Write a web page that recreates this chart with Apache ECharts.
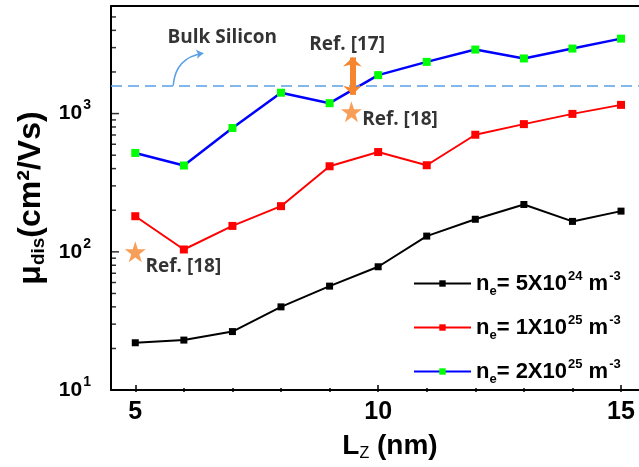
<!DOCTYPE html>
<html>
<head>
<meta charset="utf-8">
<script src="https://cdn.jsdelivr.net/npm/echarts@6/dist/echarts.min.js"></script>
<style>
html, body { margin: 0; padding: 0; background: #fff; }
#chart { width: 639px; height: 467px; }
</style>
</head>
<body>
<div id="chart"></div>
<script>
// L_Z (nm)
const lz = [5, 6, 7, 8, 9, 10, 11, 12, 13, 14, 15]
// mobility values, cm^2/Vs
const mu5e24 = [22, 23, 26.5, 40, 56.5, 78, 130, 172, 220, 166, 197]
const mu1e25 = [181, 104, 154, 214, 416, 527, 423, 703, 839, 995, 1156]
const mu2e25 = [519, 421, 787, 1416, 1189, 1897, 2366, 2904, 2505, 2953, 3484]
const seriesNames = ['5X10|24', '1X10|25', '2X10|25']
// reference points
const refStars = [[5, 100], [9.45, 1030]]
const ref17Arrow = [[9.47, 2548], [9.47, 1366]]
const bulkSilicon = 1590
const bulkArrow = [[5.78, 1590], [6.40, 2735]]
const notes = [
  { name: 'Bulk Silicon', value: [6.79, 3565], align: 'center' },
  { name: 'Ref. [17]', value: [9.36, 3170], align: 'center' },
  { name: 'Ref. [18]', value: [9.67, 901], align: 'left' },
  { name: 'Ref. [18]', value: [5.21, 77.6], align: 'left' }
]
const xLabels = [5, 10, 15]
const yMajor = [10, 100, 1000]
const yMinor = [20, 30, 40, 50, 60, 70, 80, 90, 200, 300, 400, 500, 600, 700, 800, 900, 2000, 3000, 4000, 5000]

const FONT = '"Liberation Sans", Arial, sans-serif'
const NOTE_FONT = '"Open Sans", "Noto Sans", sans-serif'
const ORANGE = '#f5862f'
const LIGHTBLUE = '#5aa0e6'
const X_MIN = 4.5, X_MAX = 15.37, Y_MIN = 10, Y_MAX = 6000
const STAR = 'path://M50,0 L61.8,35.1 L98.9,35.1 L68.9,56.9 L80.3,91.9 L50,70.2 L19.7,91.9 L31.1,56.9 L1.1,35.1 L38.2,35.1 Z'

// main plot box
const W = 639, H = 467
const G = { left: 111, top: 6, right: 0, bottom: 75 }
const gw = W - G.left - G.right
// x tick grid spans 5..15 on the same scale as the plot
const xTickGrid = {
  left: G.left + (5 - X_MIN) / (X_MAX - X_MIN) * gw,
  right: G.right + (X_MAX - 15) / (X_MAX - X_MIN) * gw,
  top: G.top, bottom: G.bottom
}

function pairs(ys) {
  return lz.map((x, i) => [x, ys[i]])
}

const legendRich = {
  a: { fontFamily: FONT, fontWeight: 'bold', fontSize: 22, color: '#000', lineHeight: 24 },
  sub: { fontFamily: FONT, fontWeight: 'bold', fontSize: 13, color: '#000', lineHeight: 24, padding: [16, 0, 0, 0] },
  sup: { fontFamily: FONT, fontWeight: 'bold', fontSize: 13, color: '#000', lineHeight: 24, padding: [0, 0, 15, 1] }
}

function lineSeries(name, ys, color, markColor, lw, ms) {
  return {
    name: name,
    type: 'line',
    data: pairs(ys),
    symbol: 'rect',
    symbolSize: ms,
    lineStyle: { color: color, width: lw },
    itemStyle: { color: markColor },
    color: color,
    z: 3
  }
}

// y ticks of the log axis, drawn as short marks on the left edge
function yTickSeries(name, values, len) {
  return {
    name: name,
    type: 'scatter',
    silent: true,
    clip: false,
    data: values.map(v => [X_MIN, v]),
    symbol: 'rect',
    symbolSize: [len, 1.5],
    symbolOffset: [len / 2, 0],
    itemStyle: { color: '#000' },
    z: 2
  }
}

const tickLine = { color: '#000', width: 1.5 }

var myChart = echarts.init(document.getElementById('chart'), null, { renderer: 'canvas' })
const option = {
  animation: false,
  backgroundColor: '#fff',
  grid: [
    { left: G.left, top: G.top, right: G.right, bottom: G.bottom },
    xTickGrid
  ],
  legend: {
    orient: 'vertical',
    left: 408,
    top: 264,
    itemWidth: 57,
    itemHeight: 8,
    itemGap: 15,
    selectedMode: false,
    data: seriesNames,
    formatter: function (name) {
      const p = name.split('|')
      return '{a|n}{sub|e}{a|= ' + p[0] + '}{sup|' + p[1] + '}{a| m}{sup|-3}'
    },
    textStyle: { rich: legendRich }
  },
  xAxis: [
    {
      gridIndex: 0, type: 'value', min: X_MIN, max: X_MAX, position: 'bottom',
      axisLine: { show: true, lineStyle: { color: '#000', width: 2 } },
      axisTick: { show: false },
      axisLabel: { customValues: xLabels, margin: 10, color: '#000', fontFamily: FONT, fontWeight: 'bold', fontSize: 25 },
      splitLine: { show: false },
      name: '{a|L}{s|Z}{a| (nm)}',
      nameLocation: 'middle',
      nameGap: 32,
      nameTextStyle: {
        padding: [0, 0, 0, 30],
        rich: {
          a: { fontFamily: FONT, fontWeight: 'bold', fontSize: 28, color: '#000', lineHeight: 30 },
          s: { fontFamily: FONT, fontSize: 16, color: '#000', lineHeight: 30, padding: [16, 0, 0, 0] }
        }
      }
    },
    {
      gridIndex: 0, type: 'value', min: X_MIN, max: X_MAX, position: 'top',
      axisLine: { show: true, lineStyle: { color: '#000', width: 2 } },
      axisTick: { show: false },
      axisLabel: { show: false },
      splitLine: { show: false }
    },
    {
      // x ticks: major every 5 nm, minor every 1 nm
      gridIndex: 1, type: 'value', min: 5, max: 15, interval: 5, position: 'bottom',
      axisLine: { show: false },
      axisTick: { show: true, inside: true, length: 7, lineStyle: tickLine },
      minorTick: { show: true, splitNumber: 5, length: 4, lineStyle: tickLine },
      axisLabel: { show: false },
      splitLine: { show: false }
    }
  ],
  yAxis: [
    {
      gridIndex: 0, type: 'log', logBase: 10, min: Y_MIN, max: Y_MAX, position: 'left',
      axisLine: { show: true, lineStyle: { color: '#000', width: 2 } },
      axisTick: { show: false },
      axisLabel: {
        customValues: yMajor,
        margin: 20,
        formatter: function (v) {
          return '{a|10}{s|' + Math.round(Math.log10(v)) + '}'
        },
        rich: {
          a: { fontFamily: FONT, fontWeight: 'bold', fontSize: 21, color: '#000', lineHeight: 24 },
          s: { fontFamily: FONT, fontWeight: 'bold', fontSize: 14, color: '#000', lineHeight: 24, padding: [0, 0, 16, 1] }
        }
      },
      splitLine: { show: false },
      name: '{a|μ}{s|dis}{a|(cm²/Vs)}',
      nameLocation: 'middle',
      nameGap: 62,
      nameRotate: 90,
      nameTextStyle: {
        rich: {
          a: { fontFamily: FONT, fontWeight: 'bold', fontSize: 32, color: '#000', lineHeight: 34 },
          s: { fontFamily: FONT, fontWeight: 'bold', fontSize: 19, color: '#000', lineHeight: 34, padding: [14, 0, 0, 0] }
        }
      }
    },
    {
      gridIndex: 1, type: 'value', min: 0, max: 1, show: false
    }
  ],
  series: [
    lineSeries(seriesNames[0], mu5e24, '#000000', '#000000', 2, 7),
    lineSeries(seriesNames[1], mu1e25, '#ff0000', '#ff0000', 2, 8),
    lineSeries(seriesNames[2], mu2e25, '#0000ff', '#00ff00', 2.5, 8),
    yTickSeries('yMajorTicks', yMajor, 8),
    yTickSeries('yMinorTicks', yMinor, 5),
    {
      // bulk silicon reference + orange stars + ref [17] arrow
      name: 'refs',
      type: 'scatter',
      data: refStars,
      symbol: STAR,
      symbolSize: 21,
      itemStyle: { color: ORANGE },
      z: 5,
      markLine: {
        silent: true,
        animation: false,
        label: { show: false },
        data: [
          [
            { coord: [X_MIN, bulkSilicon], symbol: 'none', lineStyle: { color: LIGHTBLUE, width: 1.5, type: [11, 6] } },
            { coord: [X_MAX, bulkSilicon], symbol: 'none' }
          ],
          [
            { coord: ref17Arrow[0], symbol: 'arrow', symbolSize: [14, 9], lineStyle: { color: ORANGE, width: 6, type: 'solid' } },
            { coord: ref17Arrow[1], symbol: 'arrow', symbolSize: [14, 9] }
          ]
        ]
      }
    },
    {
      name: 'bulkArrow',
      type: 'lines',
      coordinateSystem: 'cartesian2d',
      polyline: false,
      symbol: ['none', 'arrow'],
      symbolSize: 7,
      lineStyle: { color: LIGHTBLUE, width: 1.5, curveness: 0.4, opacity: 1 },
      data: [{ coords: bulkArrow }],
      z: 4
    },
    {
      name: 'notes',
      type: 'scatter',
      symbolSize: 0,
      silent: true,
      data: notes.map(n => ({
        name: n.name,
        value: n.value,
        label: {
          show: true,
          position: n.align === 'left' ? 'right' : 'inside',
          distance: 0,
          formatter: '{b}',
          fontFamily: NOTE_FONT,
          fontWeight: 'bold',
          fontSize: 19,
          color: '#000'
        }
      })),
      z: 6
    }
  ]
}
myChart.setOption(option)
</script>
</body>
</html>
